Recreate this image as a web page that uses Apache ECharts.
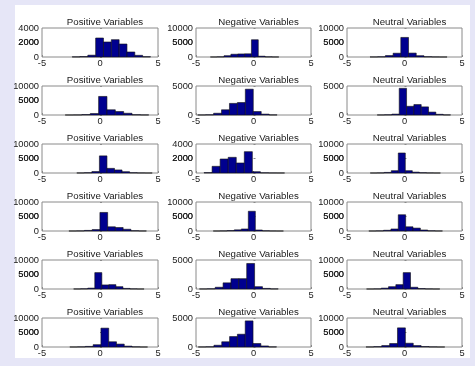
<!DOCTYPE html>
<html>
<head>
<meta charset="utf-8">
<script src="https://cdn.jsdelivr.net/npm/echarts@6/dist/echarts.min.js"></script>
<style>
  html, body { margin: 0; padding: 0; background: #e6e6f7; }
  #chart { width: 475px; height: 366px; }
</style>
</head>
<body>
<div id="chart"></div>
<script>
// one title per column
const columnTitles = ['Positive Variables', 'Negative Variables', 'Neutral Variables']
const xTicks = [-5, 0, 5]

// y-axis limits and tick step, row by row (pos, neg, neutral)
const yMax = [
  [4000, 10000, 10000],
  [10000, 5000, 5000],
  [10000, 4000, 10000],
  [10000, 10000, 10000],
  [10000, 5000, 10000],
  [10000, 5000, 10000],
]
const yStep = [
  [2000, 5000, 5000],
  [5000, 5000, 5000],
  [5000, 2000, 5000],
  [5000, 5000, 5000],
  [5000, 5000, 5000],
  [5000, 5000, 5000],
]

// data range of every histogram (10 equal bins between lo and hi)
const binLo = [
  [-2.4, -3.75, -3.0],
  [-3.0, -4.85, -2.37],
  [-2.0, -4.3, -2.98],
  [-2.68, -3.5, -3.1],
  [-2.27, -4.7, -3.3],
  [-2.6, -4.8, -3.35],
]
const binHi = [
  [4.35, 2.2, 3.7],
  [4.2, 2.05, 4.0],
  [4.5, 2.7, 3.12],
  [4.0, 2.6, 3.3],
  [3.8, 2.15, 3.07],
  [4.1, 2.0, 3.5],
]

// bin counts
const countsPos = [
  [20, 60, 250, 2620, 2070, 2390, 1790, 690, 230, 40],
  [10, 30, 150, 500, 6400, 1800, 1200, 600, 100, 30],
  [20, 100, 500, 5900, 1600, 1050, 450, 100, 30, 10],
  [10, 40, 200, 500, 6400, 1450, 1200, 600, 100, 20],
  [20, 80, 300, 5650, 1400, 1500, 800, 200, 50, 10],
  [10, 50, 200, 800, 6500, 1800, 1000, 300, 60, 10],
]
const countsNeg = [
  [10, 60, 450, 950, 1050, 1100, 5950, 280, 60, 15],
  [10, 40, 300, 900, 2000, 2150, 4450, 600, 150, 20],
  [50, 920, 1930, 2160, 1380, 2940, 180, 30, 10, 5],
  [10, 40, 150, 400, 700, 6800, 350, 80, 20, 5],
  [10, 40, 300, 1060, 1780, 1780, 4400, 400, 100, 20],
  [10, 40, 300, 900, 1800, 2200, 4500, 600, 180, 20],
]
const countsNeu = [
  [20, 80, 500, 1300, 6750, 1350, 450, 100, 30, 10],
  [10, 40, 150, 4600, 1500, 1800, 1400, 500, 120, 20],
  [10, 40, 200, 800, 6900, 800, 300, 100, 30, 10],
  [10, 50, 250, 700, 5600, 1450, 1000, 350, 80, 20],
  [10, 40, 300, 800, 1500, 5650, 600, 150, 40, 10],
  [20, 120, 500, 1200, 6600, 1300, 500, 150, 40, 10],
]
const counts = [countsPos, countsNeg, countsNeu]

const colLeft = [42, 196, 347]
const colWidth = [116, 115, 115]
const font = 'Liberation Sans, Arial, sans-serif'
const tickStyle = { show: true, inside: true, length: 2, lineStyle: { color: '#8a8a8a' } }
const labelStyle = { fontSize: 9.3, color: '#1a1a1a', fontFamily: font }

const chart = echarts.init(document.getElementById('chart'))

const grids = [], xAxes = [], yAxes = [], series = [], titles = []
for (let r = 0; r < 6; r++) {
  for (let c = 0; c < 3; c++) {
    const i = grids.length
    const top = 28 + r * 58
    const max = yMax[r][c], step = yStep[r][c]
    grids.push({
      left: colLeft[c], top: top, width: colWidth[c], height: 29,
      show: true, borderColor: '#8a8a8a', borderWidth: 1, backgroundColor: '#fff',
    })
    titles.push({
      text: columnTitles[c],
      left: colLeft[c] + colWidth[c] / 2,
      top: top - 16,
      textAlign: 'center',
      textStyle: { fontSize: 9.7, fontWeight: 'normal', color: '#1a1a1a', fontFamily: font },
    })
    xAxes.push({
      gridIndex: i, type: 'value',
      min: xTicks[0], max: xTicks[xTicks.length - 1], interval: xTicks[1] - xTicks[0],
      axisLine: { show: false }, splitLine: { show: false },
      axisTick: tickStyle,
      axisLabel: { ...labelStyle, margin: 2, formatter: (v) => String(v) },
    })
    yAxes.push({
      gridIndex: i, type: 'value',
      min: 0, max: max, interval: step,
      axisLine: { show: false }, splitLine: { show: false },
      axisTick: tickStyle,
      axisLabel: { ...labelStyle, margin: 3, formatter: (v) => String(v) },
    })
    // the axis drops the middle tick label on such a short axis, so add it back as a mark
    const mids = []
    for (let v = step; v < max; v += step) mids.push(v)
    const lo = binLo[r][c], hi = binHi[r][c]
    const w = (hi - lo) / 10
    const bins = counts[c][r].map((n, k) => [lo + k * w, lo + (k + 1) * w, n])
    series.push({
      type: 'custom',
      xAxisIndex: i, yAxisIndex: i,
      silent: true,
      data: bins,
      renderItem: (params, api) => {
        const a = api.coord([api.value(0), api.value(2)])
        const b = api.coord([api.value(1), 0])
        return {
          type: 'rect',
          shape: { x: a[0], y: a[1], width: b[0] - a[0], height: b[1] - a[1] },
          style: { fill: '#00008f', stroke: '#111', lineWidth: 0.6 },
        }
      },
      markPoint: {
        silent: true,
        symbol: 'circle', symbolSize: 0,
        label: { ...labelStyle, position: 'left', distance: 3, formatter: (p) => String(p.value) },
        data: mids.map((v) => ({ coord: [xTicks[0], v], value: v })),
      },
    })
  }
}

chart.setOption({
  animation: false,
  backgroundColor: 'transparent',
  graphic: [{
    type: 'rect', z: -10,
    shape: { x: 15, y: 5, width: 455, height: 353 },
    style: { fill: '#fff' },
  }],
  title: titles,
  grid: grids,
  xAxis: xAxes,
  yAxis: yAxes,
  series: series,
})
</script>
</body>
</html>
